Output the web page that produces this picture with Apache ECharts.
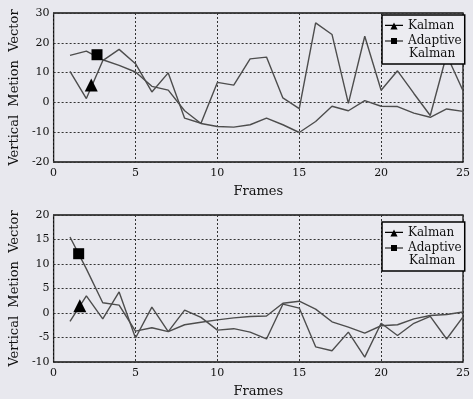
<!DOCTYPE html>
<html>
<head>
<meta charset="utf-8">
<script src="https://cdn.jsdelivr.net/npm/echarts@6/dist/echarts.min.js"></script>
<style>
  html, body { margin: 0; padding: 0; background: #e8e8ee; }
  #chart { width: 473px; height: 399px; }
</style>
</head>
<body>
<div id="chart"></div>
<script>
const frames = [1, 2, 3, 4, 5, 6, 7, 8, 9, 10, 11, 12, 13, 14, 15, 16, 17, 18, 19, 20, 21, 22, 23, 24, 25]

// top panel
const kalmanTop = [10.4, 1.3, 14, 17.8, 13, 3.5, 9.9, -5.3, -7, 6.7, 5.8, 14.6, 15.2, 1.5, -2.1, 26.7, 22.8, -0.3, 22.2, 4.1, 10.6, 3, -4.4, 16, 3.9]
const adaptiveTop = [15.8, 17.2, 14.3, 12.4, 10.2, 5.4, 4.1, -2.8, -7.1, -8.1, -8.3, -7.5, -5.3, -7.5, -10.1, -6.4, -1.3, -2.8, 0.6, -1.3, -1.4, -3.6, -5, -2.2, -3]
const kalmanTopMark = [2.3, 5.8]
const adaptiveTopMark = [2.65, 16]

// bottom panel
const kalmanBottom = [-1.7, 3.5, -1.2, 4.3, -5.1, 1.2, -3.8, 0.6, -0.9, -3.5, -3.2, -3.9, -5.3, 1.8, 1, -6.9, -7.7, -3.9, -9, -2.1, -4.6, -2.1, -0.7, -5.3, -0.8]
const adaptiveBottom = [15.5, 9, 2.1, 1.6, -3.7, -3, -3.8, -2.4, -1.9, -1.4, -1, -0.7, -0.6, 2, 2.4, 0.8, -1.8, -2.9, -4.1, -2.6, -2.4, -1.2, -0.5, -0.3, 0.2]
const kalmanBottomMark = [1.6, 1.5]
const adaptiveBottomMark = [1.53, 12.1]

const xTicks = { min: 0, max: 25, interval: 5 }
const yTop = { min: -20, max: 30, interval: 10 }
const yBottom = { min: -10, max: 20, interval: 5 }

const font = "'DejaVu Serif', 'Liberation Serif', serif"
const lineColor = "#4d4d4d"
const triIcon = "path://M0,9L30,9L30,11L0,11Z M9,17L15,5L21,17Z"
const sqIcon = "path://M0,9L30,9L30,11L0,11Z M10,5L20,5L20,15L10,15Z"

const pair = (ys) => frames.map((f, i) => [f, ys[i]])

const chart = echarts.init(document.getElementById("chart"), null, { renderer: "canvas" })

const grids = [
  { left: 52, right: 8, top: 13, height: 149 },
  { left: 52, right: 8, top: 215, height: 150 },
].map((g) => ({ ...g, show: true, borderColor: "#111", borderWidth: 1.3, backgroundColor: "transparent" }))

const xAxisOf = (idx) => ({
  type: "value",
  gridIndex: idx,
  ...xTicks,
  name: "Frames",
  nameLocation: "middle",
  nameGap: 23,
  nameTextStyle: { fontFamily: font, fontSize: 13, color: "#111" },
  axisLine: { show: false },
  axisTick: { show: false },
  axisLabel: { fontFamily: font, fontSize: 11, color: "#111", margin: 6 },
  splitLine: { lineStyle: { color: "#333", type: [2, 2], width: 1 } },
})

const yAxisOf = (idx, range) => ({
  type: "value",
  gridIndex: idx,
  ...range,
  name: "Vertical  Metion  Vector",
  nameLocation: "middle",
  nameRotate: 90,
  nameGap: 32,
  nameTextStyle: { fontFamily: font, fontSize: 13, color: "#111" },
  axisLine: { show: false },
  axisTick: { show: false },
  axisLabel: { fontFamily: font, fontSize: 11, color: "#111", margin: 4 },
  splitLine: { lineStyle: { color: "#333", type: [2, 2], width: 1 } },
})

const lineSeries = (name, ys, idx, mark, symbol) => ({
  name,
  type: "line",
  xAxisIndex: idx,
  yAxisIndex: idx,
  data: pair(ys),
  showSymbol: false,
  symbol,
  lineStyle: { color: lineColor, width: 1.4 },
  itemStyle: { color: "#000" },
  markPoint: {
    symbol,
    symbolSize: symbol === "triangle" ? 13 : 11,
    itemStyle: { color: "#000" },
    label: { show: false },
    data: [{ coord: mark }],
  },
  animation: false,
})

const legendOf = (top) => ({
  left: 382,
  top,
  orient: "vertical",
  itemWidth: 18,
  itemHeight: 11,
  itemGap: 3,
  padding: [5, 3, 17, 3],
  borderColor: "#000",
  borderWidth: 1.5,
  backgroundColor: "#ececf1",
  selectedMode: false,
  textStyle: { fontFamily: font, fontSize: 12, color: "#111" },
  formatter: (n) => (n === "Adaptive Kalman" ? "Adaptive" : n),
  data: [
    { name: "Kalman", icon: triIcon },
    { name: "Adaptive Kalman", icon: sqIcon },
  ],
})

// second line of the "Adaptive Kalman" legend entry
const legendTail = (top) => ({
  type: "text",
  left: 409,
  top,
  z: 200,
  zlevel: 1,
  style: { text: "Kalman", font: "12px " + font, fill: "#111" },
})

chart.setOption({
  backgroundColor: "#e8e8ee",
  animation: false,
  grid: grids,
  xAxis: [xAxisOf(0), xAxisOf(1)],
  yAxis: [yAxisOf(0, yTop), yAxisOf(1, yBottom)],
  legend: [legendOf(15), legendOf(222)],
  graphic: { elements: [legendTail(48), legendTail(255)] },
  series: [
    lineSeries("Kalman", kalmanTop, 0, kalmanTopMark, "triangle"),
    lineSeries("Adaptive Kalman", adaptiveTop, 0, adaptiveTopMark, "rect"),
    lineSeries("Kalman", kalmanBottom, 1, kalmanBottomMark, "triangle"),
    lineSeries("Adaptive Kalman", adaptiveBottom, 1, adaptiveBottomMark, "rect"),
  ],
})
</script>
</body>
</html>
